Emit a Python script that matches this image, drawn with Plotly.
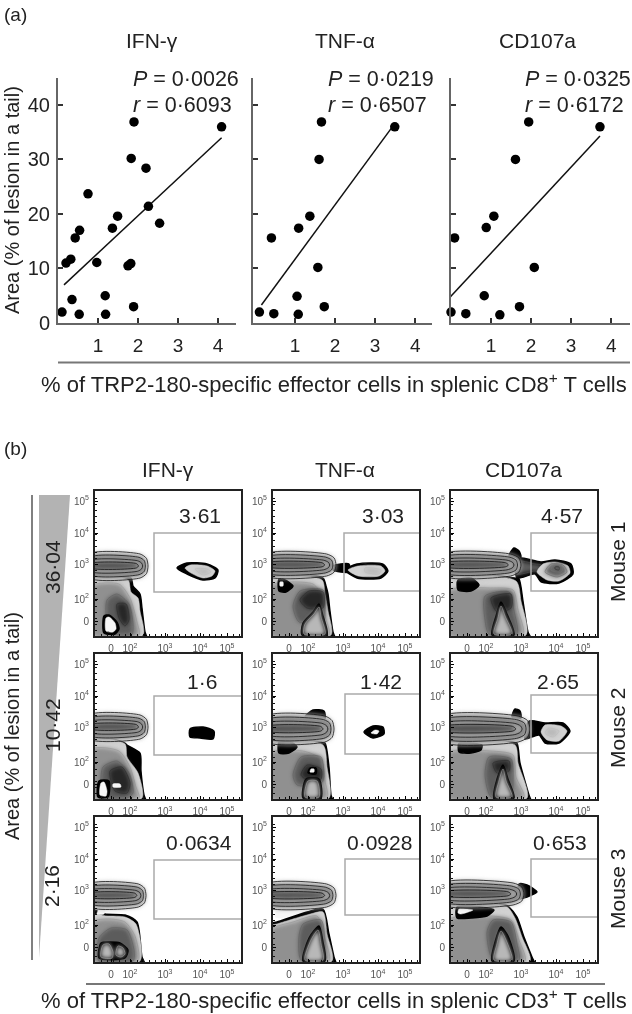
import plotly.graph_objects as go

W, H = 632, 1014
FONT = "Liberation Sans"

# ---------- panel (a) data ----------
MARKERS = ["IFN-γ", "TNF-α", "CD107a"]
IFN_X = [0.10, 0.53, 0.35, 1.18, 1.19, 1.89, 0.20, 0.32, 0.97, 1.75, 1.82, 0.43, 0.54, 1.36, 1.49, 0.75, 2.26, 2.54, 1.83, 2.20, 1.90, 4.09]
IFN_Y = [2.0, 1.6, 4.3, 5.0, 1.6, 3.0, 11.0, 11.7, 11.1, 10.5, 10.9, 15.6, 17.0, 17.4, 19.6, 23.7, 21.4, 18.3, 30.2, 28.4, 36.9, 36.0]
TNF_X = [0.11, 0.47, 1.08, 1.05, 1.73, 1.57, 0.41, 1.09, 1.37, 1.60, 1.66, 3.49]
TNF_Y = [2.0, 1.7, 1.6, 4.9, 3.0, 10.2, 15.6, 17.4, 19.6, 30.0, 36.9, 36.0]
CD107_X = [0.00, 0.37, 1.22, 0.83, 1.71, 2.08, 0.09, 0.88, 1.07, 1.61, 1.94, 3.72]
CD107_Y = [2.0, 1.7, 1.5, 5.0, 3.0, 10.2, 15.6, 17.5, 19.6, 30.0, 36.9, 36.0]
FIT_X = [[0.15, 4.09], [0.16, 3.42], [-0.04, 3.72]]
FIT_Y = [[7.0, 34.0], [3.3, 35.9], [4.6, 34.3]]
P_TEXT = ["0·0026", "0·0219", "0·0325"]
R_TEXT = ["0·6093", "0·6507", "0·6172"]

# ---------- panel (b) data: contour outlines, in display channels ----------
TICK_X = [16, 35, 70, 105, 132]
TICK_Y = [15, 37, 72, 103, 135]
DECADE_LABELS = ["0", "10<sup>2</sup>", "10<sup>3</sup>", "10<sup>4</sup>", "10<sup>5</sup>"]
VALUES = [["3·61", "3·03", "4·57"], ["1·6", "1·42", "2·65"], ["0·0634", "0·0928", "0·653"]]
MOUSE = ["Mouse 1", "Mouse 2", "Mouse 3"]
AREAS = ["36·04", "10·42", "2·16"]
GATES = [[(59, 103, 44), (71, 103, 45), (80, 103, 45)],
         [(59, 103, 44), (72, 105, 45), (80, 104, 46)],
         [(59, 102, 43), (72, 103, 47), (80, 103, 45)]]
BANDS = [[(53, 58, 82), (63, 60, 82), (70, 60, 82)],
         [(53, 60, 84), (61, 57, 83), (79, 57, 83)],
         [(51, 55, 78), (63, 55, 78), (73, 57, 79)]]
BAND_RINGS = [
    ("ring0", [(-0.1, 0.0), (0.85, 0.0), (0.97, 0.18), (1.0, 0.5), (0.97, 0.82), (0.85, 1.0), (-0.1, 1.0)]),
    ("ring1", [(-0.1, 0.14), (0.83, 0.14), (0.93, 0.28), (0.95, 0.5), (0.93, 0.72), (0.83, 0.86), (-0.1, 0.86)]),
    ("ring2", [(-0.1, 0.28), (0.8, 0.28), (0.88, 0.38), (0.9, 0.5), (0.88, 0.62), (0.8, 0.72), (-0.1, 0.72)]),
    ("ring3", [(-0.1, 0.42), (0.78, 0.42), (0.82, 0.5), (0.78, 0.6), (-0.1, 0.6)]),
]
SHADES = {"edge": "#000000", "rim": "#d2d2d2", "mid": "#909090", "deep": "#5c5c5c", "core": "#262626",
          "pale": "#b8b8b8", "white": "#f6f6f6", "ring0": "#bdbdbd", "ring1": "#7a7a7a", "ring2": "#ababab", "ring3": "#525252"}

P11 = [("edge", [(-3, 60), (36, 58), (38, 50), (45, 42), (47, 28), (50, 4), (52, -3), (-3, -3)]),
       ("rim", [(-3, 57), (33, 56), (36, 44), (43, 38), (45, 25), (48, 1), (-3, 1)]),
       ("mid", [(-3, 50), (24, 52), (35, 38), (42, 14), (44, 1), (-3, 1)]),
       ("deep", [(12, 36), (22, 42), (34, 32), (38, 12), (37, 2), (20, 2), (12, 14)]),
       ("core", [(22, 32), (31, 32), (34, 16), (30, 10), (24, 18)]),
       ("edge", [(9, 3), (9, 20), (14, 21), (22, 14), (24, 7), (20, 2)]),
       ("white", [(11, 5), (11, 18), (14, 19), (20, 13), (21, 7), (18, 4)]),
       ("edge", [(82, 68), (92, 73), (112, 72), (123, 66), (120, 58), (108, 56), (92, 62)]),
       ("rim", [(90, 68), (95, 71), (112, 70), (120, 65), (117, 60), (108, 58), (96, 63)]),
       ("pale", [(100, 67), (112, 67), (116, 64), (108, 61)])]
P12 = [("edge", [(-3, 60), (50, 58), (53, 50), (55, 42), (57, 25), (60, 4), (62, -3), (-3, -3)]),
       ("rim", [(-3, 57), (49, 56), (52, 42), (55, 25), (58, 1), (-3, 1)]),
       ("mid", [(-3, 50), (40, 52), (49, 40), (52, 20), (56, 1), (-3, 1)]),
       ("deep", [(20, 30), (27, 45), (50, 46), (52, 28), (50, 14), (26, 14)]),
       ("core", [(27, 36), (36, 45), (50, 44), (50, 28), (34, 28)]),
       ("edge", [(29, 1), (30, 13), (40, 24), (46, 32), (50, 20), (54, 1)]),
       ("pale", [(31, 2), (32, 12), (41, 22), (46, 29), (48, 19), (52, 2)]),
       ("edge", [(6, 45), (6, 57), (12, 56), (20, 50), (13, 44)]),
       ("white", [(7, 50), (7, 54), (10, 54), (10, 50)]),
       ("edge", [(60, 66), (76, 64), (76, 72), (60, 70)]),
       ("edge", [(72, 66), (84, 58), (108, 58), (115, 65), (110, 72), (84, 72)]),
       ("rim", [(75, 66), (85, 60), (106, 60), (112, 65), (108, 70), (85, 70)]),
       ("pale", [(92, 64), (106, 62), (108, 66), (92, 68)])]
P13 = [("edge", [(-3, 60), (64, 58), (68, 57), (72, 35), (77, 4), (80, -3), (-3, -3)]),
       ("rim", [(-3, 57), (65, 55), (70, 35), (75, 1), (-3, 1)]),
       ("mid", [(-3, 45), (40, 48), (62, 46), (67, 26), (72, 1), (-3, 1)]),
       ("deep", [(34, 40), (58, 44), (63, 25), (66, 2), (38, 2), (34, 16)]),
       ("core", [(40, 38), (60, 42), (60, 28), (46, 24)]),
       ("edge", [(7, 46), (7, 56), (20, 58), (28, 51), (20, 45)]),
       ("edge", [(41, 1), (45, 20), (50, 34), (56, 22), (63, 1)]),
       ("pale", [(43, 2), (47, 18), (50, 30), (54, 20), (61, 2)]),
       ("edge", [(58, 80), (63, 88), (68, 85), (70, 79)]),
       ("edge", [(66, 58), (84, 62), (90, 54), (108, 53), (122, 62), (120, 72), (104, 76), (90, 74), (66, 78)]),
       ("deep", [(66, 62), (84, 65), (90, 64), (90, 71), (84, 72), (66, 75)]),
       ("rim", [(86, 64), (96, 56), (108, 55), (119, 63), (117, 70), (104, 74), (92, 72)]),
       ("deep", [(94, 64), (106, 59), (116, 64), (112, 71), (100, 72)]),
       ("ring1", [(100, 66), (110, 64), (112, 69), (102, 70)]),
       ("core", [(104, 67), (108, 66), (108, 69), (104, 69)])]
P21 = [("edge", [(-3, 62), (30, 56), (32, 54), (45, 46), (46, 28), (49, 4), (51, -3), (-3, -3)]),
       ("rim", [(-3, 60), (30, 55), (32, 42), (43, 26), (47, 1), (-3, 1)]),
       ("mid", [(-3, 50), (24, 48), (35, 32), (41, 12), (44, 1), (-3, 1)]),
       ("deep", [(8, 32), (22, 38), (34, 26), (38, 6), (32, 1), (10, 1), (6, 14)]),
       ("core", [(15, 28), (27, 32), (35, 16), (32, 6), (20, 8)]),
       ("edge", [(3, 2), (4, 18), (14, 18), (13, 2)]),
       ("white", [(5, 4), (6, 16), (9, 17), (12, 8), (11, 3)]),
       ("white", [(18, 12), (26, 12), (25, 15), (18, 15)]),
       ("edge", [(95, 62), (105, 61), (118, 60), (119, 68), (108, 72), (95, 70)])]
P22 = [("edge", [(-3, 60), (48, 57), (52, 56), (56, 32), (58, 4), (60, -3), (-3, -3)]),
       ("rim", [(-3, 57), (50, 54), (54, 32), (56, 1), (-3, 1)]),
       ("mid", [(-3, 46), (30, 48), (48, 40), (52, 18), (54, 1), (-3, 1)]),
       ("deep", [(20, 24), (28, 42), (48, 42), (50, 18), (44, 14), (24, 14)]),
       ("core", [(28, 24), (34, 34), (48, 30), (48, 20), (36, 18)]),
       ("edge", [(6, 46), (6, 57), (16, 58), (24, 52), (16, 46)]),
       ("edge", [(30, 1), (33, 20), (46, 20), (48, 1)]),
       ("pale", [(32, 2), (35, 18), (44, 18), (46, 2)]),
       ("edge", [(35, 26), (37, 31), (43, 31), (43, 25)]),
       ("white", [(37, 27), (38, 30), (41, 30), (41, 27)]),
       ("edge", [(32, 82), (40, 89), (51, 88), (52, 80)]),
       ("edge", [(91, 67), (100, 73), (110, 72), (111, 65), (100, 61)]),
       ("white", [(98, 66), (102, 69), (106, 68), (104, 65)])]
P23 = [("edge", [(-3, 60), (62, 57), (66, 56), (69, 36), (78, 4), (80, -3), (-3, -3)]),
       ("rim", [(-3, 57), (64, 54), (67, 36), (76, 1), (-3, 1)]),
       ("mid", [(-3, 46), (40, 48), (62, 44), (65, 22), (73, 1), (-3, 1)]),
       ("deep", [(34, 24), (38, 42), (60, 40), (62, 20), (60, 2), (40, 2)]),
       ("core", [(42, 36), (58, 38), (58, 28), (46, 26)]),
       ("edge", [(8, 47), (8, 56), (20, 56), (31, 54), (30, 49), (20, 46)]),
       ("edge", [(43, 1), (46, 20), (52, 34), (57, 20), (63, 1)]),
       ("pale", [(45, 2), (48, 18), (52, 30), (55, 18), (61, 2)]),
       ("edge", [(61, 82), (64, 90), (69, 88), (70, 81)]),
       ("edge", [(74, 60), (88, 64), (94, 56), (108, 56), (119, 68), (112, 76), (94, 76), (78, 78)]),
       ("rim", [(90, 67), (96, 59), (108, 58), (116, 68), (110, 73), (94, 74)]),
       ("pale", [(94, 66), (102, 62), (108, 68), (98, 71)])]
P31 = [("edge", [(-3, 52), (10, 48), (30, 47), (42, 40), (47, 5), (50, -3), (-3, -3)]),
       ("rim", [(-3, 47), (12, 46), (30, 45), (41, 38), (45, 1), (-3, 1)]),
       ("mid", [(-3, 40), (15, 43), (30, 40), (40, 26), (43, 1), (-3, 1)]),
       ("deep", [(4, 24), (16, 34), (32, 32), (39, 12), (38, 1), (4, 1)]),
       ("edge", [(4, 4), (6, 19), (15, 20), (25, 19), (33, 12), (30, 4)]),
       ("pale", [(6, 5), (8, 17), (14, 18), (18, 10), (17, 4)]),
       ("pale", [(21, 7), (23, 16), (28, 14), (30, 8), (26, 5)]),
       ("white", [(2, 48), (5, 54), (10, 53), (9, 48)])]
P32 = [("white", [(2, 45), (6, 56), (36, 54), (37, 52), (8, 44)]),
       ("edge", [(-3, 38), (4, 40), (34, 50), (50, 53), (56, 28), (61, 5), (63, -3), (-3, -3)]),
       ("rim", [(-3, 36), (4, 38), (34, 47), (50, 50), (54, 28), (59, 1), (-3, 1)]),
       ("mid", [(-3, 32), (20, 40), (44, 46), (51, 26), (56, 1), (-3, 1)]),
       ("deep", [(26, 26), (30, 38), (48, 42), (52, 18), (50, 2), (28, 2)]),
       ("edge", [(30, 1), (36, 24), (46, 36), (50, 20), (52, 1)]),
       ("pale", [(32, 2), (38, 22), (45, 32), (48, 18), (50, 2)])]
P33 = [("edge", [(-3, 60), (55, 57), (58, 55), (66, 45), (73, 25), (81, 5), (84, -3), (-3, -3)]),
       ("rim", [(-3, 57), (56, 55), (64, 44), (71, 25), (79, 1), (-3, 1)]),
       ("mid", [(-3, 42), (40, 46), (60, 42), (68, 22), (74, 1), (-3, 1)]),
       ("deep", [(36, 30), (42, 42), (60, 40), (66, 18), (68, 2), (42, 2)]),
       ("edge", [(6, 44), (6, 55), (30, 55), (43, 52), (36, 46), (20, 44)]),
       ("white", [(7, 49), (8, 53), (22, 52), (10, 48)]),
       ("edge", [(41, 1), (44, 20), (50, 35), (57, 26), (63, 1)]),
       ("pale", [(43, 2), (46, 18), (50, 31), (55, 22), (61, 2)]),
       ("edge", [(68, 63), (76, 65), (86, 70), (76, 77), (68, 78)])]
CYTO = [[P11, P12, P13], [P21, P22, P23], [P31, P32, P33]]

SCATTER = [(IFN_X, IFN_Y), (TNF_X, TNF_Y), (CD107_X, CD107_Y)]
A_BOX = [(58, 236, -0.0, 4.45), (253, 432, -0.05, 4.42), (451, 630, -0.0, 4.47)]
B_COLS = [95, 273, 451]
B_ROWS = [491, 654, 817]

fig = go.Figure()
layout = {}


def xdom(a, b):
    return [a / W, b / W]


def ydom(top, bottom):
    return [1 - bottom / H, 1 - top / H]


def note(text, x, y, size=21, anchor="center", angle=0, color="#222222"):
    fig.add_annotation(text=text, x=x / W, y=1 - y / H, xref="paper", yref="paper", showarrow=False,
                       xanchor=anchor, yanchor="middle", textangle=angle, borderpad=0, borderwidth=0,
                       font=dict(family=FONT, size=size, color=color))


idx = 0
for i, (xs, ys) in enumerate(SCATTER):
    idx += 1
    sx = "" if idx == 1 else str(idx)
    a, b, lo, hi = A_BOX[i]
    layout["xaxis" + sx] = dict(domain=xdom(a, b), range=[lo, hi], anchor="y" + sx, tickvals=[1, 2, 3, 4], automargin=False,
                                ticks="inside", ticklen=5, tickwidth=1.5, tickcolor="#333333", showgrid=False,
                                zeroline=False, showline=True, linecolor="#666666", linewidth=2,
                                ticklabelstandoff=4, tickfont=dict(family=FONT, size=19, color="#222222"))
    layout["yaxis" + sx] = dict(domain=ydom(78, 323), range=[0, 44.95], anchor="x" + sx, automargin=False,
                                tickvals=[0, 10, 20, 30, 40], ticks="inside", ticklen=5, tickwidth=1.5,
                                tickcolor="#333333", showgrid=False, zeroline=False, showline=True,
                                linecolor="#666666", linewidth=2, showticklabels=i == 0, ticklabelstandoff=2,
                                tickfont=dict(family=FONT, size=20, color="#222222"))
    fig.add_trace(go.Scatter(x=FIT_X[i], y=FIT_Y[i], mode="lines", line=dict(color="#111111", width=1.5),
                             xaxis="x" + sx, yaxis="y" + sx, cliponaxis=False))
    fig.add_trace(go.Scatter(x=xs, y=ys, mode="markers", marker=dict(color="#000000", size=9.5),
                             xaxis="x" + sx, yaxis="y" + sx, cliponaxis=False))

for r in range(3):
    for c in range(3):
        idx += 1
        sx = str(idx)
        left, top = B_COLS[c], B_ROWS[r]
        axis = dict(range=[0, 146], tickvals=TICK_X, ticktext=DECADE_LABELS, ticks="inside", ticklen=3, tickwidth=1,
                    tickcolor="#000000", showgrid=False, zeroline=False, showline=True, mirror=True, automargin=False,
                    linecolor="#222222", linewidth=2, tickfont=dict(family=FONT, size=10, color="#555555"),
                    ticklabelstandoff=2, minor=dict(ticks="inside", ticklen=2, dtick=6, tickcolor="#111111"))
        layout["xaxis" + sx] = dict(axis, domain=xdom(left, left + 146), anchor="y" + sx)
        yaxis = dict(axis, domain=ydom(top, top + 145), anchor="x" + sx, range=[0, 145], tickvals=TICK_Y)
        layout["yaxis" + sx] = yaxis

        def poly(level, pts, line=0):
            base = 1.4 if level == "edge" else 0.5
            fig.add_trace(go.Scatter(x=[p[0] for p in pts] + [pts[0][0]], y=[p[1] for p in pts] + [pts[0][1]],
                                     mode="lines", fill="toself", fillcolor=SHADES[level],
                                     line=dict(color="#111111" if line else SHADES[level], width=line or base,
                                               shape="spline", smoothing=0.7),
                                     xaxis="x" + sx, yaxis="y" + sx))

        right, bot, tp = BANDS[r][c]
        polys = CYTO[r][c]
        for level, pts in polys[:]:
            poly(level, pts)
        for level, pts in BAND_RINGS:
            poly(level, [(u * right, bot + v * (tp - bot)) for u, v in pts], line=0.8)
        gx, gt, gb = GATES[r][c]
        fig.add_trace(go.Scatter(x=[146, gx, gx, 146], y=[gt, gt, gb, gb], mode="lines",
                                 line=dict(color="#aaaaaa", width=1.5), xaxis="x" + sx, yaxis="y" + sx))

# ---------- text ----------
note("(a)", 15, 15, size=19)
note("(b)", 15, 449, size=19)
for name, x in zip(MARKERS, [152, 345, 537]):
    note(name, x, 41)
for name, x in zip(MARKERS, [168, 345, 523]):
    note(name, x, 470)
for x, p, rr in zip([133, 328, 525], P_TEXT, R_TEXT):
    note(f"<i>P</i> = {p}", x, 79, anchor="left", size=21.5)
    note(f"<i>r</i> = {rr}", x, 105, anchor="left", size=21.5)
note("Area (% of lesion in a tail)", 12, 200, angle=-90, size=20)
note("Area (% of lesion in a tail)", 12, 726, angle=-90, size=20)
note("% of TRP2-180-specific effector cells in splenic CD8<sup>+</sup> T cells", 334, 383, size=22)
note("% of TRP2-180-specific effector cells in splenic CD3<sup>+</sup> T cells", 334, 999, size=22)
VALUE_X = [[200, 383, 562], [202, 381, 558], [199, 379, 560]]
VALUE_Y = [515, 681, 842]
for r in range(3):
    for c in range(3):
        note(VALUES[r][c], VALUE_X[r][c], VALUE_Y[r])
for label, y in zip(MOUSE, [562, 728, 889]):
    note(label, 617, y, angle=-90)
for label, x, y in zip(AREAS, [52, 52, 51], [567, 725, 886]):
    note(label, x, y, angle=-90)

shapes = [
    dict(type="line", x0=58, x1=630, y0=362.5, y1=362.5, line=dict(color="#777777", width=2)),
    dict(type="line", x0=86, x1=605, y0=984, y1=984, line=dict(color="#777777", width=2)),
    dict(type="line", x0=32, x1=32, y0=495, y1=960, line=dict(color="#808080", width=2)),
    dict(type="path", path="M 39 495 L 70 495 L 39 958 Z", fillcolor="#b3b3b3", line=dict(width=0)),
]
for s in shapes:
    s["xref"] = "x100"
    s["yref"] = "y100"
layout["xaxis100"] = dict(domain=[0, 1], range=[0, W], visible=False, anchor="y100", fixedrange=True, automargin=False)
layout["yaxis100"] = dict(domain=[0, 1], range=[H, 0], visible=False, anchor="x100", fixedrange=True, automargin=False)
fig.add_trace(go.Scatter(x=[0], y=[0], mode="markers", marker=dict(opacity=0), xaxis="x100", yaxis="y100"))

fig.update_layout(width=W, height=H, margin=dict(l=0, r=0, t=0, b=0, autoexpand=False), paper_bgcolor="white",
                  plot_bgcolor="rgba(0,0,0,0)", template="none", showlegend=False, shapes=shapes, **layout)
SOFTEN = """
document.body.style.margin = '0';
document.querySelectorAll('.js-fill').forEach(function (p) {
  var f = p.style.fill || '';
  var hard = f.indexOf('rgb(0, 0, 0)') === 0 || f.indexOf('rgb(246') === 0 || f.indexOf('rgb(210') === 0;
  p.style.filter = hard ? 'blur(0.6px)' : 'blur(2px)';
});
document.querySelectorAll('.main-svg').forEach(function (s) { s.style.filter = 'blur(0.45px)'; });
"""
fig.write_html("out.html", post_script=SOFTEN, config={"displayModeBar": False})
